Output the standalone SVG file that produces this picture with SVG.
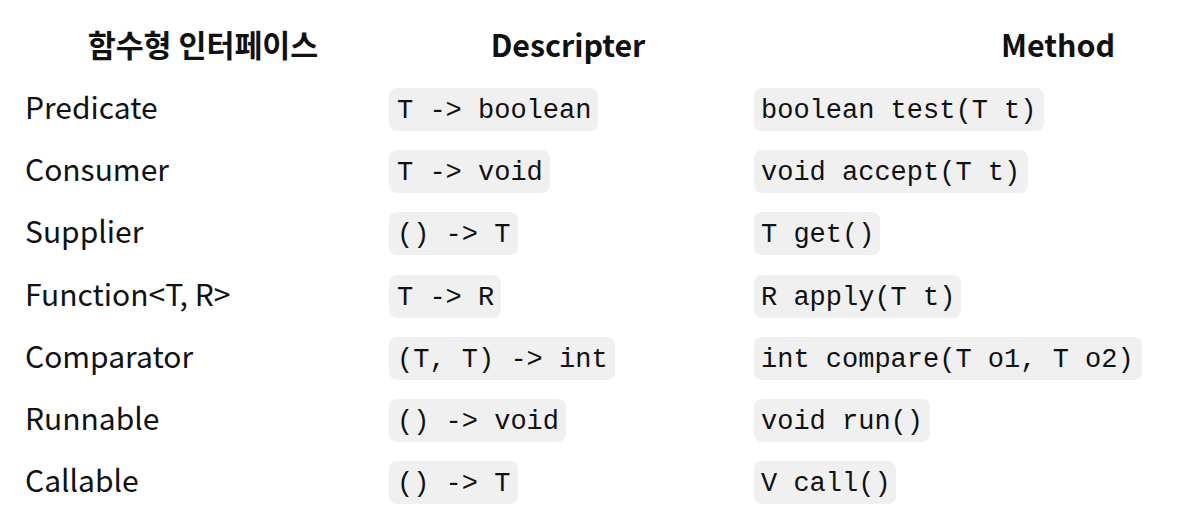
<svg xmlns="http://www.w3.org/2000/svg" width="1196" height="532" viewBox="0 0 1196 532">
<style>
.hd{font-family:"Noto Sans CJK KR","Liberation Sans",sans-serif;font-weight:700;font-size:30.4px;fill:#111;text-anchor:middle}
.nm{font-family:"Noto Sans CJK KR","Liberation Sans",sans-serif;font-size:30px;fill:#111}
.cd{font-family:"Liberation Mono","Courier New",monospace;font-size:27px;fill:#111}
.bx{fill:#f0f0f0}
</style>
<rect width="1196" height="532" fill="#fff"/>
<g id="headers">
<text class="hd" x="203" y="57">함수형 인터페이스</text>
<text class="hd" x="568" y="57">Descripter</text>
<text class="hd" x="1058" y="57">Method</text>
</g>
<g id="row-predicate">
<text class="nm" x="25" y="119">Predicate</text>
<rect class="bx" x="389" y="88" width="209" height="43" rx="8"/>
<text class="cd" x="397" y="118">T -&gt; boolean</text>
<rect class="bx" x="754" y="88" width="290" height="43" rx="8"/>
<text class="cd" x="761" y="118">boolean test(T t)</text>
</g>
<g id="row-consumer">
<text class="nm" x="25" y="181">Consumer</text>
<rect class="bx" x="389" y="150" width="161" height="43" rx="8"/>
<text class="cd" x="397" y="180">T -&gt; void</text>
<rect class="bx" x="754" y="150" width="274" height="43" rx="8"/>
<text class="cd" x="761" y="180">void accept(T t)</text>
</g>
<g id="row-supplier">
<text class="nm" x="25" y="243">Supplier</text>
<rect class="bx" x="389" y="212" width="129" height="43" rx="8"/>
<text class="cd" x="397" y="242">() -&gt; T</text>
<rect class="bx" x="754" y="212" width="126" height="43" rx="8"/>
<text class="cd" x="761" y="242">T get()</text>
</g>
<g id="row-function">
<text class="nm" x="25" y="306">Function&lt;T, R&gt;</text>
<rect class="bx" x="389" y="275" width="112" height="43" rx="8"/>
<text class="cd" x="397" y="305">T -&gt; R</text>
<rect class="bx" x="754" y="275" width="207" height="43" rx="8"/>
<text class="cd" x="761" y="305">R apply(T t)</text>
</g>
<g id="row-comparator">
<text class="nm" x="25" y="368">Comparator</text>
<rect class="bx" x="389" y="337" width="226" height="43" rx="8"/>
<text class="cd" x="397" y="367">(T, T) -&gt; int</text>
<rect class="bx" x="754" y="337" width="388" height="43" rx="8"/>
<text class="cd" x="761" y="367">int compare(T o1, T o2)</text>
</g>
<g id="row-runnable">
<text class="nm" x="25" y="430">Runnable</text>
<rect class="bx" x="389" y="399" width="177" height="43" rx="8"/>
<text class="cd" x="397" y="429">() -&gt; void</text>
<rect class="bx" x="754" y="399" width="176" height="43" rx="8"/>
<text class="cd" x="761" y="429">void run()</text>
</g>
<g id="row-callable">
<text class="nm" x="25" y="492">Callable</text>
<rect class="bx" x="389" y="461" width="129" height="43" rx="8"/>
<text class="cd" x="397" y="491">() -&gt; T</text>
<rect class="bx" x="754" y="461" width="142" height="43" rx="8"/>
<text class="cd" x="761" y="491">V call()</text>
</g>
<g id="connectors"></g>
</svg>
